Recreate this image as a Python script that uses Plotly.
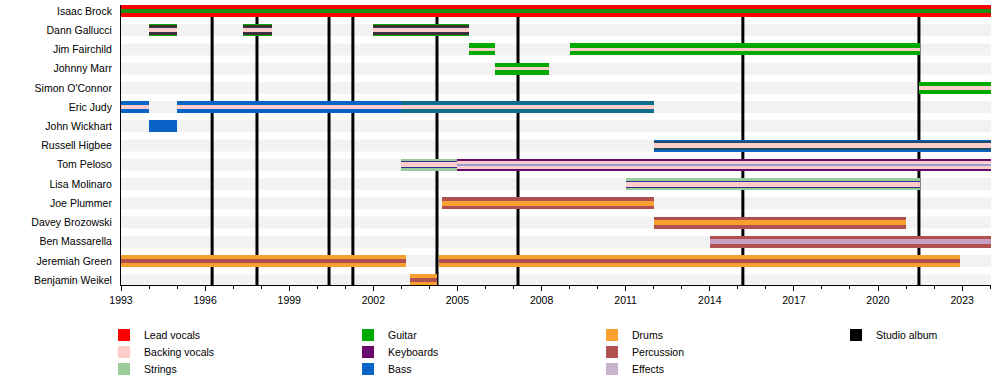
import plotly.graph_objects as go

# ---------------- data ----------------
members = [
    "Isaac Brock", "Dann Gallucci", "Jim Fairchild", "Johnny Marr", "Simon O'Connor",
    "Eric Judy", "John Wickhart", "Russell Higbee", "Tom Peloso", "Lisa Molinaro",
    "Joe Plummer", "Davey Brozowski", "Ben Massarella", "Jeremiah Green", "Benjamin Weikel",
]
END = 2024.03

period_member = [
    "Isaac Brock",
    "Dann Gallucci", "Dann Gallucci", "Dann Gallucci",
    "Jim Fairchild", "Jim Fairchild",
    "Johnny Marr",
    "Simon O'Connor",
    "Eric Judy", "Eric Judy", "Eric Judy",
    "John Wickhart",
    "Russell Higbee",
    "Tom Peloso", "Tom Peloso",
    "Lisa Molinaro",
    "Joe Plummer",
    "Davey Brozowski",
    "Ben Massarella",
    "Jeremiah Green", "Jeremiah Green",
    "Benjamin Weikel",
]
period_start = [1993.0, 1994.0, 1997.35, 2002.0, 2005.4, 2009.0, 2006.33, 2021.46,
                1993.0, 1995.0, 2003.0, 1994.0, 2012.0, 2003.0, 2005.0, 2011.0,
                2004.45, 2012.0, 2014.0, 1993.0, 2004.33, 2003.3]
period_end = [END, 1995.0, 1998.4, 2005.4, 2006.33, 2021.5, 2008.27, END,
              1994.0, 2003.0, 2012.0, 1995.0, END, 2005.0, END, 2021.5,
              2012.0, 2021.0, END, 2003.15, 2022.92, 2004.27]
# roles, outermost stripe first
period_roles = [
    ["Lead vocals", "Guitar"],
    ["Guitar", "Keyboards", "Backing vocals"],
    ["Guitar", "Keyboards", "Backing vocals"],
    ["Guitar", "Keyboards", "Backing vocals"],
    ["Guitar", "Backing vocals"],
    ["Guitar", "Backing vocals"],
    ["Guitar", "Backing vocals"],
    ["Guitar", "Backing vocals"],
    ["Bass", "Backing vocals"],
    ["Bass", "Backing vocals"],
    ["Bass", "Backing vocals"],
    ["Bass"],
    ["Bass", "Keyboards", "Backing vocals"],
    ["Strings", "Keyboards", "Backing vocals"],
    ["Keyboards", "Backing vocals", "Bass"],
    ["Strings", "Keyboards", "Backing vocals"],
    ["Percussion", "Drums"],
    ["Percussion", "Drums"],
    ["Percussion", "Effects"],
    ["Drums", "Percussion"],
    ["Drums", "Percussion"],
    ["Drums", "Percussion"],
]

album_dates = [1996.25, 1997.85, 2000.42, 2001.27, 2004.27, 2007.16, 2015.18, 2021.46]

legend_rows = [
    ["Lead vocals", "Guitar", "Drums", "Studio album"],
    ["Backing vocals", "Keyboards", "Percussion"],
    ["Strings", "Bass", "Effects"],
]

# ---------------- style ----------------
role_colors = {
    "Lead vocals": "#ff0000",
    "Backing vocals": "#ffcccc",
    "Strings": "#99cc99",
    "Guitar": "#00aa00",
    "Keyboards": "#6a0a6a",
    "Bass": "#0a64c8",
    "Drums": "#f8a030",
    "Percussion": "#b05050",
    "Effects": "#c8b4cc",
    "Studio album": "#000000",
}
# per-period colour tweaks (period index, stripe index) -> colour
color_tweaks = {
    (0, 1): "#1a8f1a",
    (1, 1): "#3a3238", (2, 1): "#3a3238", (3, 1): "#3a3238",
    (10, 0): "#0e6e8e",
    (12, 1): "#1e4e66",
    (13, 1): "#303090",
    (14, 2): "#9a9ad8",
    (15, 1): "#303090",
    (18, 1): "#c8a0c4",
}
stripe_px = {1: [12], 2: [12, 4.5], 3: [12, 8, 4.5]}
stripe_px_tweaks = {1: [12, 10, 4], 2: [12, 10, 4], 3: [12, 10, 4],
                    4: [12, 3.5], 5: [12, 3.5], 6: [12, 3.5], 7: [12, 3.5],
                    12: [12, 9, 5], 13: [12, 7, 5], 14: [12, 8, 2], 15: [12, 7, 5]}

TOP, PLOT_H = 5, 280
Y_RANGE = [14.25, -0.31]
px_per_unit = PLOT_H / (Y_RANGE[0] - Y_RANGE[1])

FONT = "Liberation Sans, Arial, sans-serif"

fig = go.Figure()
row_of = {m: i for i, m in enumerate(members)}

for p, (m, s, e, roles) in enumerate(zip(period_member, period_start, period_end, period_roles)):
    widths = stripe_px_tweaks.get(p, stripe_px[len(roles)])
    for k, role in enumerate(roles):
        col = color_tweaks.get((p, k), role_colors[role])
        fig.add_trace(go.Bar(
            orientation="h", y=[row_of[m]], x=[e - s], base=[s],
            width=widths[k] / px_per_unit,
            marker=dict(color=col, line=dict(width=0)),
            showlegend=False, hoverinfo="skip",
        ))

# legend entries: one legend per row
legend_row_px = [335, 352, 369]
legend_names = ["legend", "legend2", "legend3"]
for li, row in enumerate(legend_rows):
    for r in row:
        fig.add_trace(go.Scatter(
            x=[None], y=[None], mode="markers", name=r, legend=legend_names[li],
            legendwidth=80 if r == "Studio album" else None,
            marker=dict(symbol="square", size=12, color=role_colors[r])))

shapes = []
band_h = 12 / px_per_unit
for i, m in enumerate(members):
    shapes.append(dict(type="rect", xref="x", yref="y", x0=1993, x1=END,
                       y0=i - band_h / 2, y1=i + band_h / 2,
                       fillcolor="#f2f2f2", line=dict(width=0), layer="below"))
for d in album_dates:
    shapes.append(dict(type="line", xref="x", yref="y", x0=d, x1=d,
                       y0=Y_RANGE[0], y1=Y_RANGE[1],
                       line=dict(color="black", width=3), layer="below"))

legend_common = dict(orientation="h", x=-0.0195, xanchor="left", yanchor="middle",
                     entrywidth=199, entrywidthmode="pixels", traceorder="normal",
                     font=dict(family=FONT, size=10.5, color="black"),
                     bgcolor="rgba(0,0,0,0)")
legend_layout = {}
for name, ypx in zip(legend_names, legend_row_px):
    legend_layout[name] = dict(legend_common, y=1 - (ypx - TOP) / PLOT_H)

fig.update_layout(
    width=1000, height=385,
    margin=dict(l=121, r=9, t=TOP, b=385 - TOP - PLOT_H, autoexpand=False),
    paper_bgcolor="white", plot_bgcolor="white",
    barmode="overlay", bargap=0,
    shapes=shapes,
    font=dict(family=FONT, size=10.5, color="black"),
    showlegend=True,
    **legend_layout,
)
fig.update_xaxes(range=[1993, END], tick0=1993, dtick=3, ticks="outside", ticklen=5,
                 tickcolor="black", showline=True, linecolor="black", linewidth=1,
                 showgrid=False, zeroline=False,
                 minor=dict(dtick=1, tick0=1993, ticks="outside", ticklen=3, tickcolor="black"))
fig.update_yaxes(range=Y_RANGE, tickvals=list(range(len(members))), ticktext=members,
                 ticks="", showline=True, linecolor="black", linewidth=1,
                 showgrid=False, zeroline=False, ticklabelstandoff=6)

fig.write_html("out.html", config={"displayModeBar": False},
               post_script="document.body.style.margin='0';document.body.style.overflow='hidden';")
